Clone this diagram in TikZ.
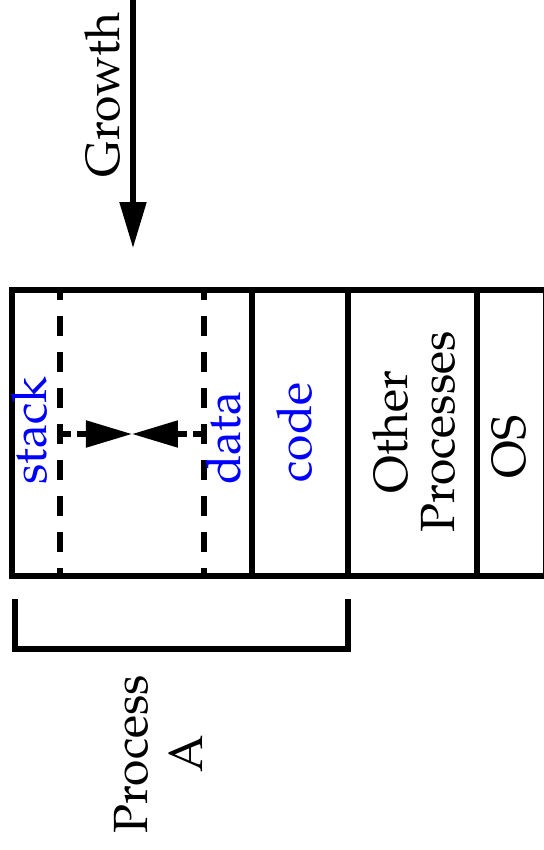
\documentclass[tikz,border=0pt]{standalone}
\usepackage[T1]{fontenc}
\usepackage{mathpazo}
\usetikzlibrary{arrows.meta}

\tikzset{every picture/.style={line width=1.3pt}}
\tikzset{
  growtip/.style={-{Triangle[length=11.5pt,width=6.5pt]}},
  partline/.style={dash pattern=on 5pt off 4pt, dash phase=2.4pt},
  meetline/.style={dash pattern=on 2.7pt off 1.5pt},
  seglabel/.style={rotate=90, inner sep=0pt, anchor=base west, text=blue},
  boxlabel/.style={rotate=90, inner sep=0pt, align=center},
  uplabel/.style={rotate=90, inner sep=0pt, anchor=base},
}

\begin{document}
\begin{tikzpicture}[x=0.25pt,y=0.25pt,yscale=-1,xscale=1,font={\fontsize{12}{14.5}\selectfont}]
\useasboundingbox (0,0) rectangle (544,850);

%Memory Box
\draw (12,290) rectangle (546,576);
%Dashed Lines
\draw [partline] (60,290) -- (60,576);
\draw [partline] (204,290) -- (204,576);
%Straight Lines
\draw (252,290) -- (252,576);
\draw (348,290) -- (348,576);
\draw (477,290) -- (477,576);

%Meeting Arrows
\coordinate (stackedge) at (60,434);
\coordinate (dataedge) at (204,434);
\coordinate (meet) at (132,434);
\draw [meetline, growtip] (stackedge) -- (meet);
\draw [meetline, growtip] (dataedge) -- (meet);

%Growth Arrow
\coordinate (growstart) at (133,-10);
\coordinate (growend) at (133,248);
\draw [growtip] (growstart) -- (growend);

%Bracket
\coordinate (procleft) at (15,599);
\coordinate (procright) at (348,599);
\draw (procleft) -- ++(0,50) -| (procright);

% Text Node
\node [uplabel] (growth) at (120,95) {Growth};
% Text Node
\node [seglabel] (stack) at (47,487) {stack};
% Text Node
\node [seglabel] (data) at (240,487) {data};
% Text Node
\node [seglabel] (code) at (312,485) {code};
% Text Node
\node [boxlabel, font={\fontsize{12}{11.75}\selectfont}] (other) at (414,432) {Other\\Processes};
% Text Node
\node [uplabel] (os) at (526,447) {OS};
% Text Node
\node [boxlabel, font={\fontsize{12}{13.75}\selectfont}] (proc) at (158,754) {Process\\A};

\end{tikzpicture}
\end{document}
